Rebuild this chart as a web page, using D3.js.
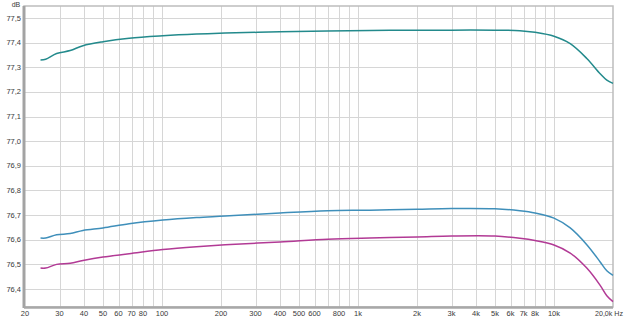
<!DOCTYPE html>
<html>
<head>
<meta charset="utf-8">
<script src="https://cdn.jsdelivr.net/npm/d3@7"></script>
<style>
  body { margin: 0; background: #fff; }
  svg { display: block; font-family: "Liberation Sans", Arial, sans-serif; }
  .lbl { font-size: 7.5px; fill: #3a3a3a; }
</style>
</head>
<body>
<div id="chart"></div>
<script>
// frequency points (Hz) shared by all three responses
var freqs = [24, 25.5, 29, 34, 39.5, 50, 68, 101, 150, 210, 400, 700, 1150, 2000, 3000, 5000, 6700, 8000, 10000, 12100, 14700, 17200, 18600, 20000];

// level in dB
var tealLevels = [77.330, 77.333, 77.356, 77.368, 77.388, 77.404, 77.418, 77.428, 77.435, 77.439, 77.444, 77.447, 77.450, 77.451, 77.451, 77.451, 77.449, 77.442, 77.426, 77.396, 77.336, 77.274, 77.248, 77.235];
var blueLevels = [76.607, 76.607, 76.620, 76.625, 76.638, 76.648, 76.665, 76.680, 76.690, 76.696, 76.709, 76.718, 76.720, 76.724, 76.727, 76.726, 76.718, 76.709, 76.688, 76.648, 76.580, 76.510, 76.474, 76.455];
var pinkLevels = [76.485, 76.485, 76.500, 76.505, 76.516, 76.530, 76.543, 76.560, 76.572, 76.580, 76.591, 76.602, 76.607, 76.611, 76.615, 76.615, 76.606, 76.597, 76.579, 76.546, 76.485, 76.415, 76.373, 76.349];

var seriesColors = ["#238a8c", "#3f8fba", "#b23a95"];

// axis ticks
var gridFreqs = [30, 40, 50, 60, 70, 80, 90, 100, 200, 300, 400, 500, 600, 700, 800, 900, 1000, 2000, 3000, 4000, 5000, 6000, 7000, 8000, 9000, 10000];
var freqLabels = [[20, "20"], [30, "30"], [40, "40"], [50, "50"], [60, "60"], [70, "70"], [80, "80"], [100, "100"],
  [200, "200"], [300, "300"], [400, "400"], [500, "500"], [600, "600"], [800, "800"], [1000, "1k"],
  [2000, "2k"], [3000, "3k"], [4000, "4k"], [5000, "5k"], [6000, "6k"], [7000, "7k"], [8000, "8k"], [10000, "10k"]];
var dbTicks = [76.4, 76.5, 76.6, 76.7, 76.8, 76.9, 77.0, 77.1, 77.2, 77.3, 77.4, 77.5];

var W = 625, H = 317;
var margin = {top: 6, right: 12, bottom: 10, left: 24};
var width = W - margin.left - margin.right,
    height = H - margin.top - margin.bottom;

var svg = d3.select("#chart").append("svg")
    .attr("width", W)
    .attr("height", H);

var g = svg.append("g")
    .attr("transform", "translate(" + margin.left + "," + margin.top + ")");

var x = d3.scaleLog()
    .domain([20, 20000])
    .range([1, width]);

var y = d3.scaleLinear()
    .domain([76.327, 77.549])
    .range([height, 0]);

var fmt = function(v) { return d3.format(".1f")(v).replace(".", ","); };

// grid
g.selectAll(".vgrid")
    .data(gridFreqs)
    .enter().append("line")
    .attr("class", "vgrid")
    .attr("x1", function(d) { return Math.round(x(d)) + 0.5; })
    .attr("x2", function(d) { return Math.round(x(d)) + 0.5; })
    .attr("y1", 0)
    .attr("y2", height)
    .attr("stroke", "#d6d6d6");

g.selectAll(".hgrid")
    .data(dbTicks)
    .enter().append("line")
    .attr("class", "hgrid")
    .attr("x1", 0)
    .attr("x2", width)
    .attr("y1", function(d) { return Math.round(y(d)) + 0.5; })
    .attr("y2", function(d) { return Math.round(y(d)) + 0.5; })
    .attr("stroke", "#d6d6d6");

// frame
g.append("rect")
    .attr("x", 0)
    .attr("y", 0)
    .attr("width", width)
    .attr("height", height)
    .attr("fill", "none")
    .attr("stroke", "#bdbdbd")
    .attr("stroke-width", 1.5);

g.append("line")
    .attr("x1", 0).attr("x2", 0)
    .attr("y1", 0).attr("y2", height + 1)
    .attr("stroke", "#a3a3a3")
    .attr("stroke-width", 3);

g.append("line")
    .attr("x1", 0).attr("x2", width)
    .attr("y1", height + 0.5).attr("y2", height + 0.5)
    .attr("stroke", "#a8a8a8")
    .attr("stroke-width", 2.5);

// labels
g.selectAll(".ylbl")
    .data(dbTicks)
    .enter().append("text")
    .attr("class", "lbl")
    .attr("x", -3)
    .attr("y", function(d) { return y(d) + 2.5; })
    .attr("text-anchor", "end")
    .text(fmt);

g.append("text")
    .attr("class", "lbl")
    .attr("x", -8)
    .attr("y", 0.5)
    .attr("text-anchor", "middle")
    .style("font-size", "7px")
    .text("dB");

g.selectAll(".xlbl")
    .data(freqLabels)
    .enter().append("text")
    .attr("class", "lbl")
    .attr("x", function(d) { return x(d[0]); })
    .attr("y", height + 9)
    .attr("text-anchor", "middle")
    .text(function(d) { return d[1]; });

g.append("text")
    .attr("class", "lbl")
    .attr("x", x(20000) - 18)
    .attr("y", height + 9)
    .style("font-size", "7.1px")
    .text("20,0k Hz");

// curves
var line = d3.line()
    .x(function(d) { return x(d[0]); })
    .y(function(d) { return y(d[1]); })
    .curve(d3.curveCatmullRom.alpha(0.5));

[tealLevels, blueLevels, pinkLevels].forEach(function(levels, i) {
    g.append("path")
        .datum(freqs.map(function(f, j) { return [f, levels[j]]; }))
        .attr("fill", "none")
        .attr("stroke", seriesColors[i])
        .attr("stroke-width", 1.5)
        .attr("d", line);
});
</script>
</body>
</html>
